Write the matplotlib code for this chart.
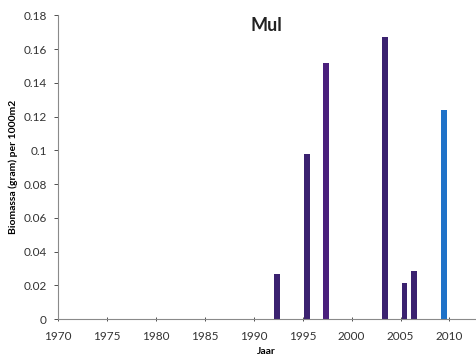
import numpy as np
import matplotlib
matplotlib.use("Agg")
import matplotlib.pyplot as plt

plt.rcParams['font.family'] = ['Lato', 'DejaVu Sans']

# biomassa mul per jaar
years = np.array([1992, 1995, 1997, 2003, 2005, 2006, 2009])
biomass = np.array([0.0266, 0.0977, 0.152, 0.167, 0.0215, 0.0286, 0.124])
colors = ['#3b2270', '#3b2270', '#4a1f7c', '#3b2270', '#3b2270', '#3b2270', '#1f72c8']
xticks = [1970, 1975, 1980, 1985, 1990, 1995, 2000, 2005, 2010]
yticks = [0, 0.02, 0.04, 0.06, 0.08, 0.1, 0.12, 0.14, 0.16, 0.18]

fig = plt.figure(figsize=(4.77, 3.63), dpi=100)
ax = fig.add_axes([0.1216, 0.121, 0.874, 0.837])

ax.bar(years + 0.4, biomass, width=0.6, color=colors)

ax.set_xlim(1970, 2012.6)
ax.set_ylim(0, 0.18)
ax.set_xticks(xticks)
ax.set_yticks(yticks)
ax.set_yticklabels([f'{t:g}' for t in yticks])

for s in ['top', 'right']:
    ax.spines[s].set_visible(False)
for s in ['left', 'bottom']:
    ax.spines[s].set_color('#8a8a8a')
    ax.spines[s].set_linewidth(0.8)
ax.tick_params(axis='both', labelsize=8.5, colors='#333333', length=3, width=0.6)
ax.tick_params(axis='x', direction='inout', pad=7)
ax.tick_params(axis='y', pad=5)

ax.set_xlabel('Jaar', fontsize=7.5, fontweight='bold', labelpad=4)
ax.set_ylabel('Biomassa (gram) per 1000m2', fontsize=7.5, fontweight='bold', labelpad=4)
ax.text(0.5, 0.965, 'Mul', transform=ax.transAxes, ha='center', va='center',
        fontsize=13, fontweight='bold', color='#222222')

fig.savefig('out.png', dpi=100)
